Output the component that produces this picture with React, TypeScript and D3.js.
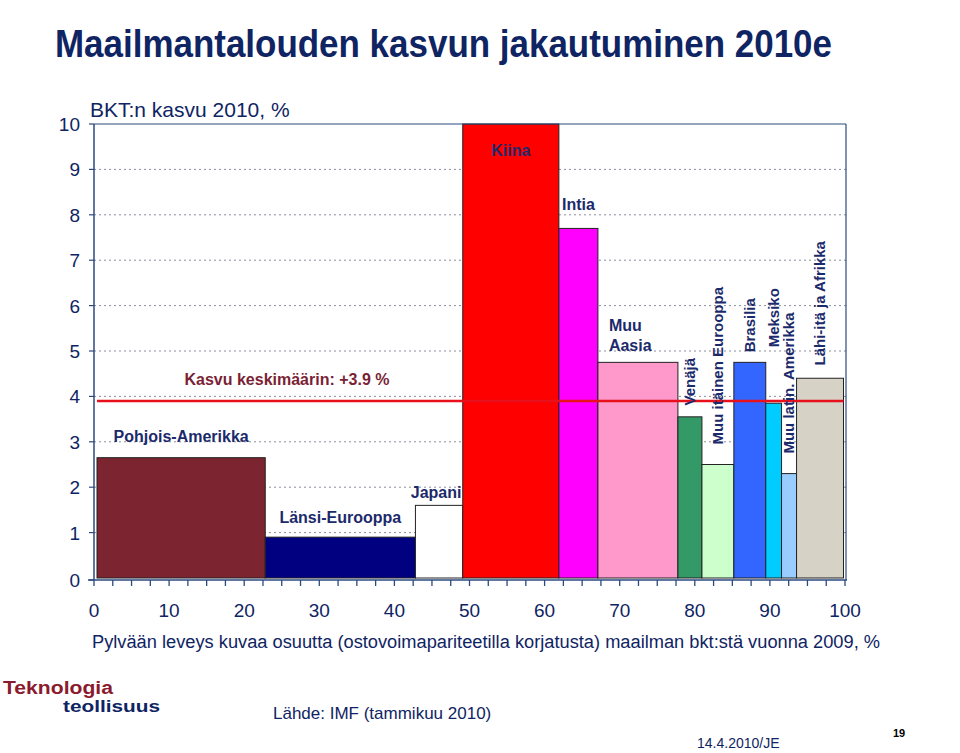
import React from "react";
import * as d3 from "d3";

const regions = [
  "Pohjois-Amerikka",
  "Länsi-Eurooppa",
  "Japani",
  "Kiina",
  "Intia",
  "Muu Aasia",
  "Venäjä",
  "Muu itäinen Eurooppa",
  "Brasilia",
  "Meksiko",
  "Muu latin. Amerikka",
  "Lähi-itä ja Afrikka",
];
const shares = [22.4, 20.0, 6.3, 12.8, 5.2, 10.65, 3.2, 4.25, 4.25, 2.1, 2.0, 6.25];
const growth = [2.65, 0.9, 1.6, 10.0, 7.7, 4.75, 3.55, 2.5, 4.75, 3.85, 2.3, 4.4];
const barColors = [
  "#7d2431",
  "#000080",
  "#ffffff",
  "#ff0000",
  "#ff00ff",
  "#ff99cc",
  "#339966",
  "#ccffcc",
  "#3366ff",
  "#00ccff",
  "#99ccff",
  "#d6d2c6",
];
const labelRotated = [false, false, false, false, false, false, true, true, true, true, true, true];
const labelValue = [3.0, 1.21, 1.77, 9.3, 8.1, 5.45, 3.8, 2.94, 4.97, 5.08, 2.74, 4.68];
const startOffset = 0.4;
const averageGrowth = 3.9;
const yTicks = d3.range(0, 11);
const xTickLabels = d3.range(0, 101, 10);
const xMinorTicks = d3.range(0, 100.01, 2.5);

const NAVY = "#0f2463";
const LABEL = "#1b2a6b";
const FONT = "'Liberation Sans', Arial, sans-serif";

export default function App() {
  const x = d3.scaleLinear().domain([0, 100]).range([94, 845]);
  const y = d3.scaleLinear().domain([0, 10]).range([578, 124]);
  const axisY = y(0) + 2;
  const frameRight = 846;

  let acc = startOffset;
  const bars = regions.map((name, i) => {
    const x0 = acc;
    acc += shares[i];
    return { name, x0, x1: acc, g: growth[i], color: barColors[i], rot: labelRotated[i], lv: labelValue[i] };
  });
  const endX = acc;

  return (
    <svg
      width={960}
      height={753}
      style={{ position: "absolute", left: 0, top: 0, background: "#fff" }}
      fontFamily={FONT}
    >
      <rect x={0} y={0} width={960} height={753} fill="#fff" />
      {/* Title */}
      <text x={55} y={57} fontSize={38} fontWeight="bold" fill={NAVY} textLength={777} lengthAdjust="spacingAndGlyphs">
        Maailmantalouden kasvun jakautuminen 2010e
      </text>
      <text x={90} y={117} fontSize={21} fill={NAVY}>
        BKT:n kasvu 2010, %
      </text>

      {/* Gridlines */}
      {yTicks
        .filter((t) => t > 0 && t < 10)
        .map((t) => (
          <line key={"g" + t} x1={x(0)} x2={frameRight} y1={y(t)} y2={y(t)} stroke="#8a8f9c" strokeWidth={1} strokeDasharray="2,3" />
        ))}

      {/* Bars */}
      {bars.map((b) => (
        <rect
          key={b.name}
          x={x(b.x0)}
          y={y(b.g)}
          width={x(b.x1) - x(b.x0)}
          height={y(0) - y(b.g)}
          fill={b.color}
          stroke="#222"
          strokeWidth={1}
        />
      ))}

      {/* Average line */}
      <line x1={x(startOffset)} x2={x(endX)} y1={y(averageGrowth)} y2={y(averageGrowth)} stroke="#e8101a" strokeWidth={2.5} />
      <text x={x(25.7)} y={y(averageGrowth) - 16} fontSize={16} fontWeight="bold" fill="#7a1f35" textAnchor="middle">
        Kasvu keskimäärin: +3.9 %
      </text>

      {/* Bar labels */}
      {bars.map((b) => {
        const cx = (x(b.x0) + x(b.x1)) / 2;
        if (b.rot) {
          return (
            <text
              key={"l" + b.name}
              transform={`translate(${cx + 5},${y(b.lv)}) rotate(-90)`}
              fontSize={15}
              fontWeight="bold"
              fill={LABEL}
            >
              {b.name}
            </text>
          );
        }
        if (b.name === "Muu Aasia") {
          const parts = b.name.split(" ");
          return (
            <text key={"l" + b.name} fontSize={16} fontWeight="bold" fill={LABEL}>
              <tspan x={x(b.x0) + 11} y={y(b.lv)}>{parts[0]}</tspan>
              <tspan x={x(b.x0) + 11} y={y(b.lv) + 20}>{parts[1]}</tspan>
            </text>
          );
        }
        return (
          <text
            key={"l" + b.name}
            x={b.name === "Japani" ? cx - 3 : cx}
            y={y(b.lv)}
            fontSize={16}
            fontWeight="bold"
            fill={LABEL}
            textAnchor="middle"
          >
            {b.name}
          </text>
        );
      })}

      {/* Frame */}
      <line x1={x(0)} x2={frameRight} y1={y(10)} y2={y(10)} stroke="#2b4a80" strokeWidth={1.2} />
      <line x1={frameRight} x2={frameRight} y1={y(10)} y2={axisY} stroke="#2b4a80" strokeWidth={1.2} />
      <line x1={x(0)} x2={x(0)} y1={y(10)} y2={axisY} stroke="#2b4a80" strokeWidth={1.5} />
      <line x1={x(0) - 6} x2={frameRight + 1} y1={axisY} y2={axisY} stroke="#2b4a80" strokeWidth={1.5} />

      {/* Y axis ticks */}
      {yTicks.map((t) => (
        <g key={"y" + t}>
          <line x1={x(0) - 5} x2={x(0)} y1={t === 0 ? axisY : y(t)} y2={t === 0 ? axisY : y(t)} stroke="#2b4a80" strokeWidth={1.2} />
          <text x={80} y={(t === 0 ? axisY : y(t)) + 7} fontSize={19} fill={NAVY} textAnchor="end">
            {t}
          </text>
        </g>
      ))}

      {/* X axis ticks */}
      {xMinorTicks.map((t) => (
        <line key={"xt" + t} x1={x(t)} x2={x(t)} y1={axisY} y2={axisY + 6} stroke="#2b4a80" strokeWidth={1.3} />
      ))}
      {xTickLabels.map((t) => (
        <text key={"xl" + t} x={x(t)} y={617} fontSize={19} fill={NAVY} textAnchor="middle">
          {t}
        </text>
      ))}
      <text x={92} y={648} fontSize={18} fill={NAVY} textLength={788} lengthAdjust="spacingAndGlyphs">
        Pylvään leveys kuvaa osuutta (ostovoimapariteetilla korjatusta) maailman bkt:stä vuonna 2009, %
      </text>

      {/* Footer */}
      <text x={3} y={694} fontSize={18} fontWeight="bold" fill="#8b1a2e" textLength={110} lengthAdjust="spacingAndGlyphs">
        Teknologia
      </text>
      <text x={63} y={712} fontSize={17} fontWeight="bold" fill="#0f2463" textLength={97} lengthAdjust="spacingAndGlyphs">
        teollisuus
      </text>
      <text x={273} y={719} fontSize={17} fill={NAVY}>
        Lähde: IMF (tammikuu 2010)
      </text>
      <text x={697} y={748} fontSize={14} fill={NAVY}>
        14.4.2010/JE
      </text>
      <text x={893} y={737} fontSize={11} fontWeight="bold" fill="#000">
        19
      </text>
    </svg>
  );
}
